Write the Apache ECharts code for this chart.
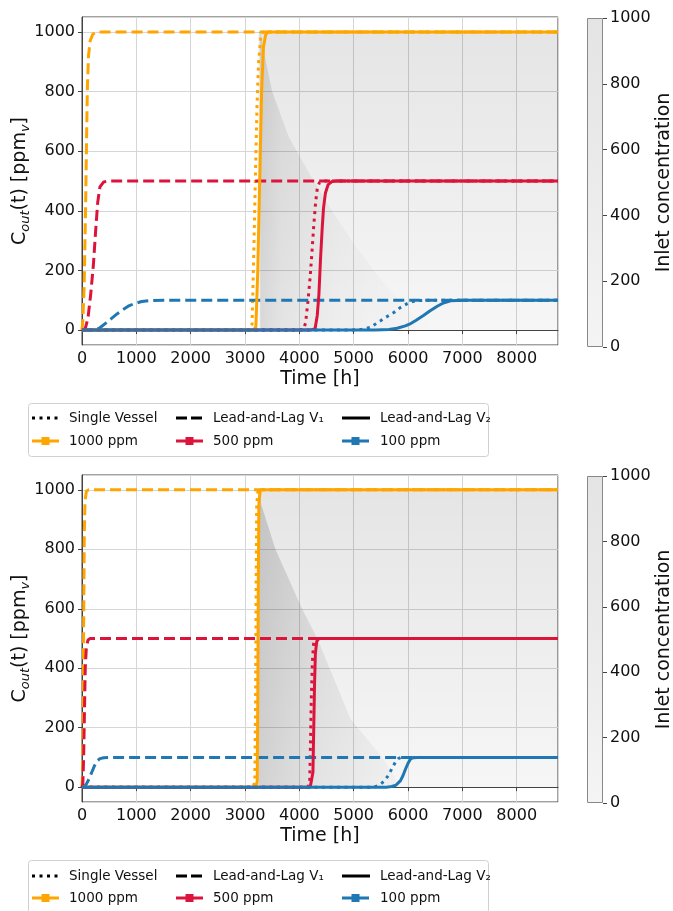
<!DOCTYPE html>
<html><head><meta charset="utf-8">
<script src="https://cdn.jsdelivr.net/npm/echarts@6/dist/echarts.min.js"></script>
<style>html,body{margin:0;padding:0;background:#fff}#c{width:673px;height:911px}</style>
</head><body><div id="c"></div>
<script>
// ---------------- DATA (time [h], C_out [ppm_v]) ----------------
// Top panel
const topOrangeSV = [[0,0],[3080,0],[3130,20],[3160,250],[3190,500],[3220,750],[3250,900],[3290,980],[3330,1000],[8760,1000]];
const topOrangeV1 = [[0,0],[15,30],[40,150],[65,400],[85,650],[100,820],[120,920],[150,970],[200,993],[280,1000],[8760,1000]];
const topOrangeV2 = [[0,0],[3150,0],[3200,10],[3235,200],[3270,500],[3305,800],[3340,950],[3380,990],[3420,1000],[8760,1000]];
const topRedSV = [[0,0],[4000,0],[4080,3],[4115,25],[4160,100],[4200,180],[4235,270],[4265,350],[4300,430],[4330,475],[4370,495],[4420,500],[8760,500]];
const topRedV1 = [[0,0],[60,5],[110,40],[160,120],[210,220],[250,330],[290,430],[330,480],[400,497],[500,500],[8760,500]];
const topRedV2 = [[0,0],[4200,0],[4290,5],[4330,50],[4360,120],[4390,240],[4420,340],[4445,410],[4480,460],[4530,488],[4600,498],[4680,500],[8760,500]];
const topBlueSV = [[0,0],[4900,0],[5000,1],[5155,3],[5309,9],[5432,24],[5585,42],[5739,59],[5862,76],[6015,92],[6138,98],[6300,100],[8760,100]];
const topBlueV1 = [[0,0],[250,0],[330,8],[450,25],[550,40],[650,55],[750,68],[850,80],[950,88],[1100,96],[1300,99.5],[1500,100],[8760,100]];
const topBlueV2 = [[0,0],[5400,0],[5650,2],[5800,6],[5950,14],[6050,22],[6150,33],[6290,50],[6400,64],[6538,80],[6650,91],[6783,98],[7000,100],[8760,100]];
// Bottom panel
const botOrangeSV = [[0,0],[3150,0],[3180,20],[3195,300],[3205,700],[3215,950],[3240,1000],[8760,1000]];
const botOrangeV1 = [[0,0],[12,50],[22,250],[32,600],[42,850],[55,960],[80,995],[120,1000],[8760,1000]];
const botOrangeV2 = [[0,0],[3200,0],[3225,20],[3235,300],[3245,700],[3255,950],[3280,1000],[8760,1000]];
const botRedSV = [[0,0],[4150,0],[4190,10],[4205,150],[4220,300],[4240,420],[4260,480],[4290,500],[8760,500]];
const botRedV1 = [[0,0],[15,10],[30,100],[45,250],[60,400],[80,470],[110,495],[150,500],[8760,500]];
const botRedV2 = [[0,0],[4200,0],[4235,5],[4250,50],[4265,200],[4280,350],[4295,450],[4320,490],[4360,500],[8760,500]];
const botBlueSV = [[0,0],[5300,0],[5400,2],[5480,8],[5560,20],[5640,40],[5710,65],[5770,85],[5820,96],[5870,100],[8760,100]];
const botBlueV1 = [[0,0],[40,2],[80,10],[130,28],[180,50],[230,72],[280,88],[330,96],[400,99],[500,100],[8760,100]];
const botBlueV2 = [[0,0],[5600,0],[5700,2],[5780,7],[5862,22],[5910,40],[5954,61],[6000,80],[6046,95],[6100,99],[6170,100],[8760,100]];
// Gray inlet-concentration family (envelope)
const topShadeBand = [[3250,1000],[8760,1000]];
const topShadeFront = [[3280,1000],[3350,930],[3500,800],[3800,650],[4200,520],[4600,400],[5000,290],[5500,170],[6000,70],[6500,0]];
const botShadeBand = [[3240,1000],[8760,1000]];
const botShadeFront = [[3250,1000],[3300,950],[3560,800],[4050,600],[4330,500],[4940,230],[5550,95],[5870,0]];
// Colorbar
const colorbarValue = [1000];
// Legend labels
const styleNames = ['Single Vessel', 'Lead-and-Lag V\u2081', 'Lead-and-Lag V\u2082'];
const concNames = ['1000 ppm', '500 ppm', '100 ppm'];

// ---------------- STYLE ----------------
const FONT = 'DejaVu Sans';
const C_OR = '#FFA500', C_RD = '#DC143C', C_BL = '#1f77b4';
const DOT = [3, 4.5], DASH = [11, 5];
const panels = [
  {top: 17, height: 328, cbTop: 18, cbHeight: 329, legendBox: 403, rows: [418, 441],
   curves: [[topOrangeSV, topRedSV, topBlueSV], [topOrangeV1, topRedV1, topBlueV1], [topOrangeV2, topRedV2, topBlueV2]],
   band: topShadeBand, front: topShadeFront,
   frontStops: [[0, 0.12], [0.12, 0.075], [0.45, 0.03], [1, 0.0]]},
  {top: 475, height: 327, cbTop: 476, cbHeight: 327, legendBox: 860, rows: [876, 898],
   curves: [[botOrangeSV, botRedSV, botBlueSV], [botOrangeV1, botRedV1, botBlueV1], [botOrangeV2, botRedV2, botBlueV2]],
   band: botShadeBand, front: botShadeFront,
   frontStops: [[0, 0.15], [0.45, 0.07], [1, 0.02]]}
];
const concColors = [C_OR, C_RD, C_BL];
const lineTypes = [DOT, DASH, 'solid'];

const grids = [], xAxes = [], yAxes = [], series = [], legends = [], graphics = [];
const axisColor = '#444';
const plain = v => String(v);
const tickLabel = {fontSize: 16, fontFamily: FONT, color: '#111', formatter: plain};

panels.forEach((p, i) => {
  const gi = grids.length;
  grids.push({left: 82, width: 476, top: p.top, height: p.height, show: true, borderColor: axisColor, borderWidth: 1,
    backgroundColor: 'transparent', containLabel: false, outerBoundsMode: 'none'});
  grids.push({left: 587, width: 16, top: p.cbTop, height: p.cbHeight, containLabel: false, outerBoundsMode: 'none'});
  xAxes.push({type: 'value', gridIndex: gi, min: 0, max: 8760, interval: 1000,
    axisLine: {show: true, lineStyle: {color: axisColor}}, axisTick: {length: 4, lineStyle: {color: axisColor}},
    axisLabel: Object.assign({margin: 6, showMaxLabel: false}, tickLabel),
    splitLine: {show: true, lineStyle: {color: '#d6d6d6', width: 1}},
    name: 'Time [h]', nameLocation: 'middle', nameGap: 25, nameTextStyle: {fontSize: 19, fontFamily: FONT, color: '#111'}});
  yAxes.push({type: 'value', gridIndex: gi, min: -50, max: 1050, splitNumber: 5,
    axisLine: {show: true, lineStyle: {color: axisColor}}, axisTick: {length: 4, lineStyle: {color: axisColor}},
    axisLabel: Object.assign({margin: 7, showMinLabel: false, showMaxLabel: false}, tickLabel),
    splitLine: {show: true, lineStyle: {color: '#d6d6d6', width: 1}},
    name: '{a|C}{s|out}{a|(t) [ppm}{s|v}{a|]}', nameLocation: 'middle', nameGap: 50, nameRotate: 90, nameMoveOverlap: false,
    nameTextStyle: {color: '#111', rich: {
      a: {fontSize: 19, fontFamily: FONT, color: '#111', lineHeight: 24},
      s: {fontSize: 13, fontFamily: FONT, fontStyle: 'italic', color: '#111', lineHeight: 14, verticalAlign: 'bottom'}}}});
  // colorbar axes
  xAxes.push({type: 'category', gridIndex: gi + 1, data: ['c'], show: false});
  yAxes.push({type: 'value', gridIndex: gi + 1, position: 'right', min: 0, max: 1000, interval: 200,
    axisLine: {show: false}, axisTick: {show: true, length: 4, lineStyle: {color: axisColor}},
    axisLabel: Object.assign({margin: 7}, tickLabel), splitLine: {show: false},
    name: 'Inlet concentration', nameLocation: 'middle', nameGap: 48, nameRotate: 90,
    nameTextStyle: {fontSize: 19, fontFamily: FONT, color: '#111'}});
  const xi = xAxes.length - 2, yi = yAxes.length - 2;
  // shading
  series.push({type: 'line', xAxisIndex: xi, yAxisIndex: yi, data: p.band, symbol: 'none', silent: true, z: 1,
    lineStyle: {width: 0}, areaStyle: {origin: 'auto', opacity: 1, color: {type: 'linear', x: 0, y: 0, x2: 0, y2: 1,
      colorStops: [{offset: 0, color: 'rgba(0,0,0,0.10)'}, {offset: 1, color: 'rgba(0,0,0,0.035)'}]}}});
  series.push({type: 'line', xAxisIndex: xi, yAxisIndex: yi, data: p.front, symbol: 'none', silent: true, z: 1,
    lineStyle: {width: 0}, areaStyle: {origin: 'auto', opacity: 1, color: {type: 'linear', x: 0, y: 0, x2: 1, y2: 0,
      colorStops: p.frontStops.map(s => ({offset: s[0], color: 'rgba(0,0,0,' + s[1] + ')'}))}}});
  // curves: SV, V1, V2 each for orange, red, blue
  p.curves.forEach((group, k) => {
    group.forEach((d, c) => {
      series.push({type: 'line', xAxisIndex: xi, yAxisIndex: yi, data: d, symbol: 'none', silent: true, z: 2 + k,
        lineStyle: {color: concColors[c], width: 3, type: lineTypes[k]}});
    });
  });
  // colorbar
  series.push({type: 'bar', xAxisIndex: xi + 1, yAxisIndex: yi + 1, data: colorbarValue, barWidth: '100%', silent: true,
    itemStyle: {borderColor: '#888', borderWidth: 1, color: {type: 'linear', x: 0, y: 0, x2: 0, y2: 1,
      colorStops: [{offset: 0, color: '#e4e4e4'}, {offset: 0.5, color: '#ebebeb'}, {offset: 1, color: '#f4f4f4'}]}}});
  // legend box
  graphics.push({type: 'rect', z: 0, shape: {x: 28.5, y: p.legendBox + 0.5, width: 460, height: 53, r: 3},
    style: {fill: '#fff', stroke: '#d0d0d0', lineWidth: 1}});
  const icons = [
    {name: styleNames[0], icon: 'path://M0,0h3v3h-3z M7.5,0h3v3h-3z M15,0h3v3h-3z M22.5,0h3v3h-3z', w: 25.5, h: 3, left: 32, pad: 6.5, row: 0},
    {name: styleNames[1], icon: 'path://M0,0h11v3h-11z M15,0h11v3h-11z', w: 26, h: 3, left: 176, pad: 6, row: 0},
    {name: styleNames[2], icon: 'path://M0,0h28v3h-28z', w: 28, h: 3, left: 342, pad: 5, row: 0},
    {name: concNames[0], icon: 'path://M0,2.5h27v3h-27z M9.5,0h8v8h-8z', w: 27, h: 8, left: 32, pad: 5, row: 1},
    {name: concNames[1], icon: 'path://M0,2.5h27v3h-27z M9.5,0h8v8h-8z', w: 27, h: 8, left: 176, pad: 5, row: 1},
    {name: concNames[2], icon: 'path://M0,2.5h27v3h-27z M9.5,0h8v8h-8z', w: 27, h: 8, left: 342, pad: 6, row: 1}
  ];
  icons.forEach(it => {
    legends.push({left: it.left, top: p.rows[it.row] - 8, padding: 0, itemGap: 0, itemWidth: it.w, itemHeight: it.h,
      selectedMode: false, data: [{name: it.name, icon: it.icon}],
      textStyle: {fontSize: 13.5, fontFamily: FONT, color: '#111', padding: [0, 0, 0, it.pad], lineHeight: 16}});
  });
});
// dummy series for legend entries
const legendColors = ['#000', '#000', '#000', C_OR, C_RD, C_BL];
styleNames.concat(concNames).forEach((n, i) => {
  series.push({type: 'line', name: n, xAxisIndex: 0, yAxisIndex: 0, data: [], color: legendColors[i], symbol: 'none'});
});

const chart = echarts.init(document.getElementById('c'), null, {renderer: 'canvas'});
chart.setOption({animation: false, backgroundColor: '#fff', grid: grids, xAxis: xAxes, yAxis: yAxes,
  series: series, legend: legends, graphic: graphics});
</script></body></html>
